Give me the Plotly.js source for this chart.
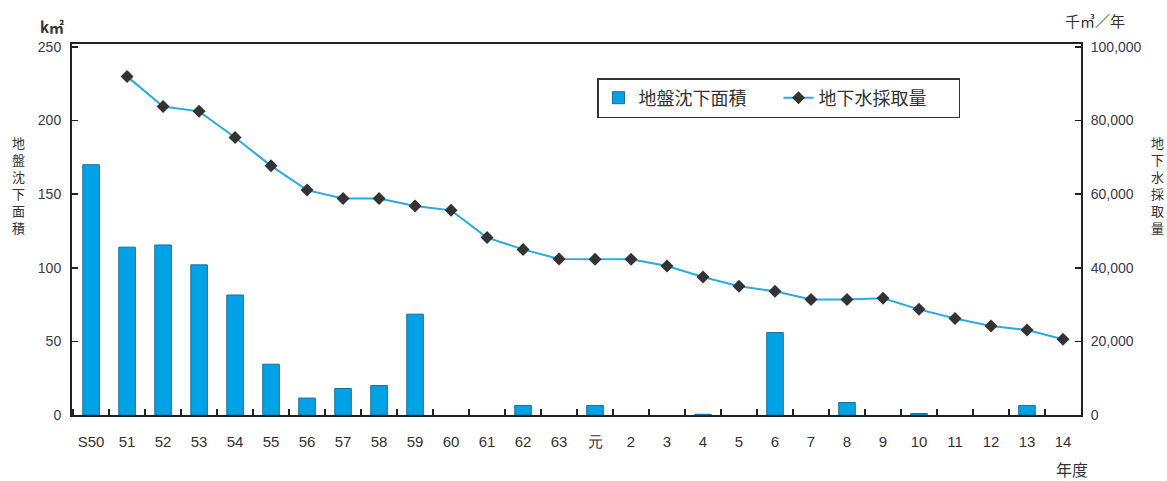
<!DOCTYPE html>
<html><head><meta charset="utf-8">
<script src="https://cdn.plot.ly/plotly-3.0.1.min.js"></script>
<style>html,body{margin:0;padding:0;background:#fff;}#chart{width:1167px;height:481px;}</style>
</head><body><div id="chart"></div>
<script>
// Fiscal years (昭和50年 … 平成14年)
const years = ['S50','51','52','53','54','55','56','57','58','59','60','61','62','63','元','2','3','4','5','6','7','8','9','10','11','12','13','14'];
// 地盤沈下面積 (km²)
const subsidenceArea = [170,114,115.5,102,81.5,34.5,11.5,18,20,68.5,0,0,6.5,0,6.5,0,0,0.5,0,56,0,8.5,0,1,0,0,6.5,0];
// 地下水採取量 (千m³/年)
const groundwater = [null,92000,83800,82500,75400,67700,61100,58800,58800,56800,55600,48200,45000,42400,42300,42300,40500,37500,35000,33600,31400,31400,31700,28700,26200,24200,23100,20600];

const barName = '地盤沈下面積';
const lineName = '地下水採取量';
const leftTitle = '地盤沈下面積';
const rightTitle = '地下水採取量';
const leftUnit = 'k㎡';
const rightUnit = '千㎥／年';
const xUnit = '年度';

const L = 72, R = 1081, T = 44, B = 415;
const px = x => (x - L) / (R - L);
const py = y => (B - y) / (B - T);
const cjk = '"Noto Sans CJK JP", "Noto Sans", sans-serif';
const num = '"Liberation Sans", Arial, sans-serif';

const traces = [
  {type:'bar', x: years, y: subsidenceArea, name: barName, width: 0.46,
   marker:{color:'#00a2e6', line:{color:'#1a6d9c', width: subsidenceArea.map(v => v > 0 ? 1 : 0)}}, yaxis:'y'},
  {type:'scatter', mode:'lines+markers', x: years, y: groundwater, name: lineName, yaxis:'y2',
   line:{color:'#2aaae2', width:2}, marker:{symbol:'diamond', size:10, color:'#333333'}}
];

const vert = s => s.split('').join('<br>');

const layout = {
  width:1167, height:481,
  margin:{l:L, r:1167-R, t:T, b:481-B, pad:0},
  paper_bgcolor:'#fff', plot_bgcolor:'#fff',
  showlegend:true,
  legend:{orientation:'h', x:px(597), y:py(78), xanchor:'left', yanchor:'top',
    bordercolor:'#333', borderwidth:1.5, bgcolor:'#fff', entrywidth:135,
    font:{family:cjk, size:18, color:'#333'}, traceorder:'normal'},
  xaxis:{type:'category', range:[-0.53, 27.5], showline:true, linecolor:'#222', linewidth:2, mirror:true,
    ticks:'inside', tickson:'boundaries', ticklen:6, tickwidth:1.5, tickcolor:'#222', tickangle:0,
    tickfont:{family:num, size:15, color:'#333'}, ticklabelstandoff:12, showgrid:false, zeroline:false},
  yaxis:{range:[0, 252], dtick:50, showline:true, linecolor:'#222', linewidth:2,
    ticks:'inside', ticklen:6, tickwidth:1.5, tickcolor:'#222',
    tickfont:{family:num, size:14, color:'#3a3a4a'}, ticklabelstandoff:6, showgrid:false, zeroline:false},
  yaxis2:{overlaying:'y', side:'right', range:[0, 100800], dtick:20000, tickformat:',d',
    showline:true, linecolor:'#222', linewidth:2,
    ticks:'inside', ticklen:6, tickwidth:1.5, tickcolor:'#222',
    tickfont:{family:num, size:14, color:'#3a3a4a'}, ticklabelstandoff:5, showgrid:false, zeroline:false},
  annotations:[
    {xref:'paper', yref:'paper', x:px(18), y:py(185), text:vert(leftTitle), showarrow:false,
     font:{family:cjk, size:13, color:'#333'}, xanchor:'center', yanchor:'middle'},
    {xref:'paper', yref:'paper', x:px(1157), y:py(185), text:vert(rightTitle), showarrow:false,
     font:{family:cjk, size:13, color:'#333'}, xanchor:'center', yanchor:'middle'},
    {xref:'paper', yref:'paper', x:px(52), y:py(26), text:'<b>'+leftUnit+'</b>', showarrow:false,
     font:{family:cjk, size:15, color:'#333'}, xanchor:'center', yanchor:'middle'},
    {xref:'paper', yref:'paper', x:px(1095), y:py(21), text:rightUnit, showarrow:false,
     font:{family:cjk, size:15, color:'#333'}, xanchor:'center', yanchor:'middle'},
    {xref:'paper', yref:'paper', x:px(1072), y:py(469), text:xUnit, showarrow:false,
     font:{family:cjk, size:16, color:'#333'}, xanchor:'center', yanchor:'middle'}
  ]
};

Plotly.newPlot('chart', traces, layout, {displayModeBar:false, staticPlot:true});
</script>
</body></html>
